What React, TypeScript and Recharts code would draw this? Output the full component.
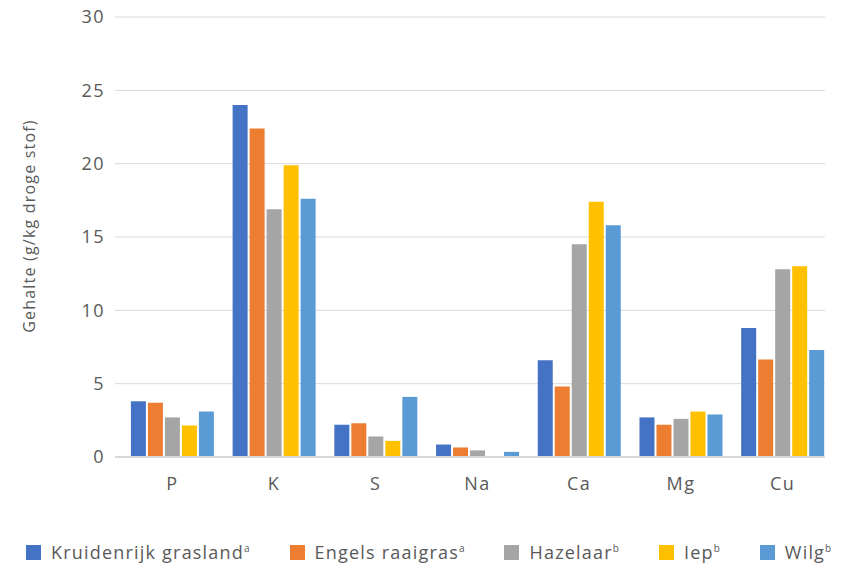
import { BarChart, Bar, XAxis, YAxis, CartesianGrid, Legend } from "recharts";

const elements = ["P", "K", "S", "Na", "Ca", "Mg", "Cu"];
const kruidenrijk = [3.8, 24.0, 2.2, 0.85, 6.6, 2.7, 8.8];
const engels = [3.7, 22.4, 2.3, 0.65, 4.8, 2.2, 6.65];
const hazelaar = [2.7, 16.9, 1.4, 0.45, 14.5, 2.6, 12.8];
const iep = [2.15, 19.9, 1.1, 0.05, 17.4, 3.1, 13.0];
const wilg = [3.1, 17.6, 4.1, 0.35, 15.8, 2.9, 7.3];
const yTicks = [0, 5, 10, 15, 20, 25, 30];

const series = [
  { key: "kruidenrijk", name: "Kruidenrijk grasland", sup: "a", color: "#4472C4", values: kruidenrijk },
  { key: "engels", name: "Engels raaigras", sup: "a", color: "#ED7D31", values: engels },
  { key: "hazelaar", name: "Hazelaar", sup: "b", color: "#A5A5A5", values: hazelaar },
  { key: "iep", name: "Iep", sup: "b", color: "#FFC000", values: iep },
  { key: "wilg", name: "Wilg", sup: "b", color: "#5B9BD5", values: wilg },
];

const data = elements.map((el, i) => {
  const row: Record<string, string | number> = { el };
  series.forEach((s) => (row[s.key] = s.values[i]));
  return row;
});

const font = "'Open Sans', sans-serif";
const textColor = "#595959";

function LegendContent() {
  return (
    <div
      style={{
        display: "flex",
        alignItems: "center",
        height: 24,
        gap: 40,
        paddingLeft: 26,
        fontFamily: font,
        fontSize: 18,
        letterSpacing: 1.2,
        color: textColor,
        whiteSpace: "nowrap",
      }}
    >
      {series.map((s) => (
        <div key={s.key} style={{ display: "flex", alignItems: "center" }}>
          <span style={{ width: 15, height: 15, background: s.color, marginRight: 10, display: "inline-block" }} />
          <span>
            {s.name}
            <sup style={{ fontSize: 10, letterSpacing: 0 }}>{s.sup}</sup>
          </span>
        </div>
      ))}
    </div>
  );
}

const yLabel = () => (
  <text
    x={29}
    y={226}
    transform="rotate(-90 29 226)"
    textAnchor="middle"
    dominantBaseline="central"
    fill={textColor}
    fontSize={16}
    fontFamily={font}
    letterSpacing={1.2}
  >
    Gehalte (g/kg droge stof)
  </text>
);

export default function App() {
  return (
    <div style={{ position: "absolute", left: 0, top: 0, background: "#fff" }}>
      <BarChart
        width={843}
        height={563}
        data={data}
        margin={{ top: 17, right: 18, bottom: 0, left: 0 }}
        barCategoryGap={9.4}
        barGap={2}
      >
        <CartesianGrid vertical={false} stroke="#d9d9d9" />
        <XAxis
          dataKey="el"
          tickLine={false}
          axisLine={{ stroke: "#d9d9d9", strokeWidth: 2 }}
          tick={{ fill: textColor, fontSize: 18, fontFamily: font, letterSpacing: 1.5 }}
          tickMargin={14}
          height={50}
          padding={{ left: 6.5, right: -8.5 }}
        />
        <YAxis
          domain={[0, 30]}
          ticks={yTicks}
          width={115}
          axisLine={false}
          tickLine={false}
          tickSize={0}
          tickMargin={10}
          tick={{ fill: textColor, fontSize: 18, fontFamily: font, letterSpacing: 1.5 }}
          label={yLabel}
        />
        <Legend
          verticalAlign="bottom"
          height={56}
          content={<LegendContent />}
          wrapperStyle={{ top: 540, left: 0, bottom: "auto" }}
        />
        {series.map((s) => (
          <Bar key={s.key} dataKey={s.key} name={s.name} fill={s.color} isAnimationActive={false} />
        ))}
      </BarChart>
    </div>
  );
}
